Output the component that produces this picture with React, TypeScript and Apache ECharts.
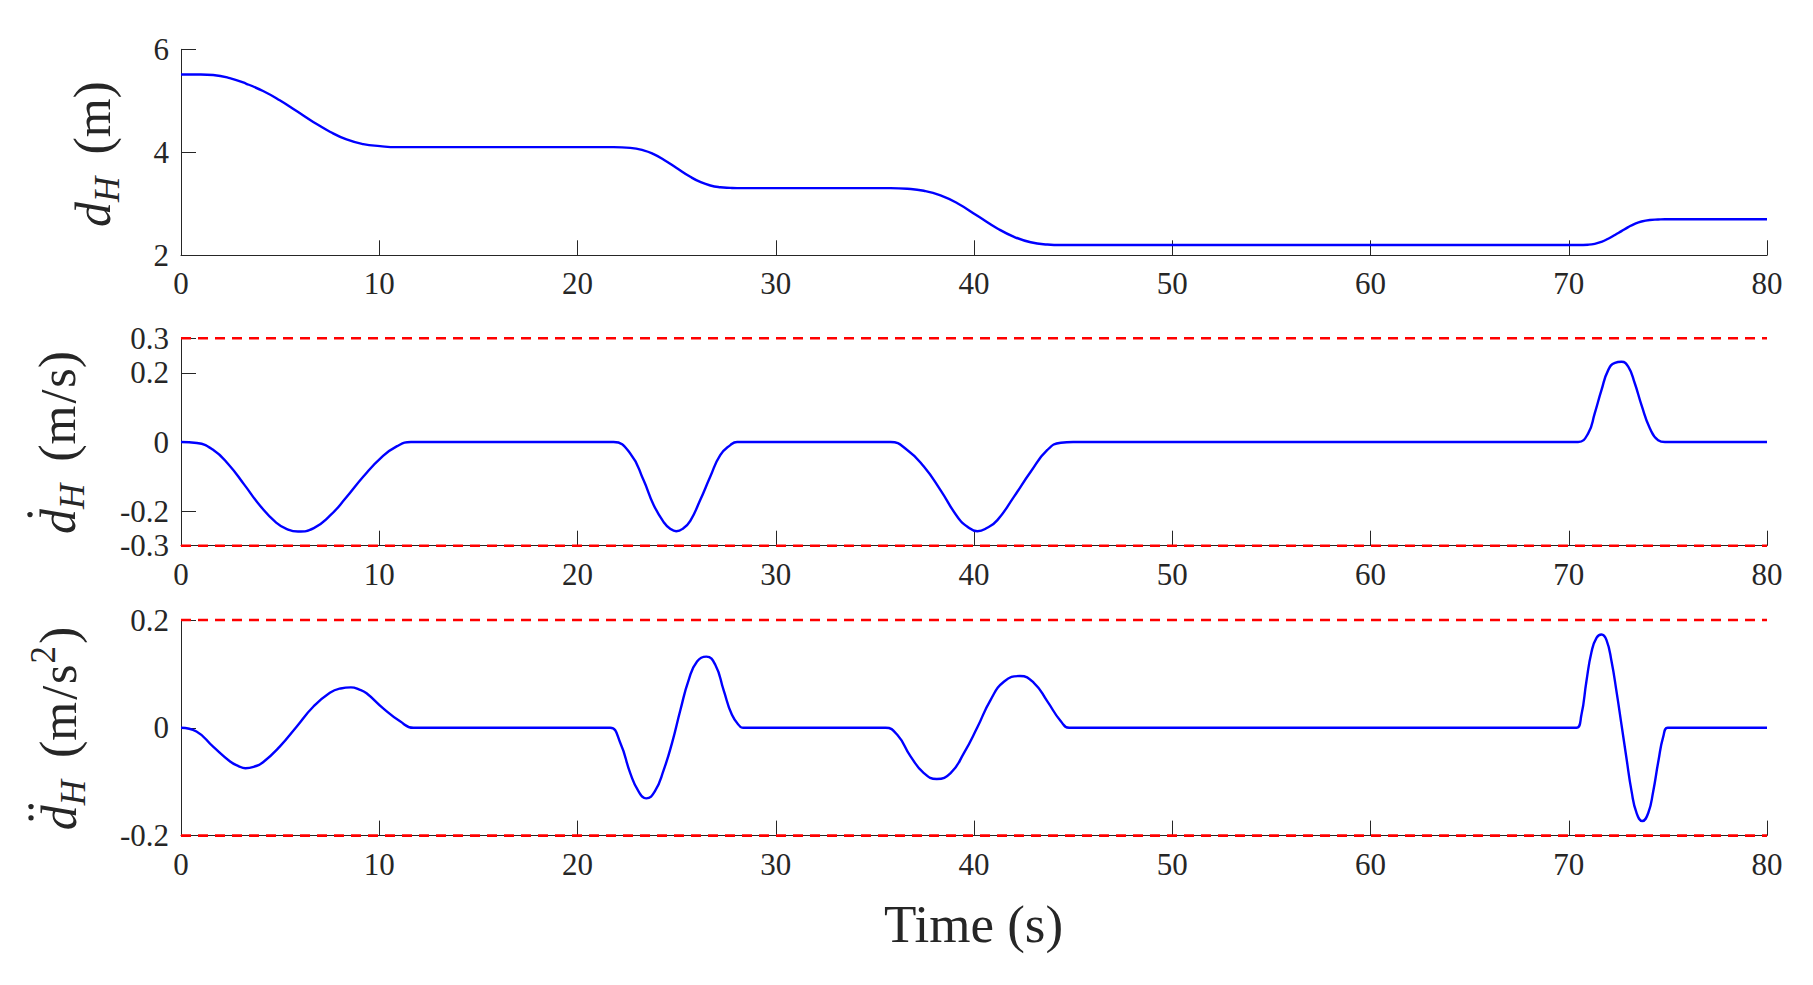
import React, { useEffect, useRef } from "react";
import * as echarts from "echarts";

// ---------- data ----------
const timeRange = [0, 80];
const timeInterval = 10;

const distanceTicks = [2, 4, 6];
const velocityTicks = [-0.3, -0.2, 0, 0.2, 0.3];
const accelTicks = [-0.2, 0, 0.2];

const velocityLimits = [-0.3, 0.3];
const accelLimits = [-0.2, 0.2];

// d_H (m)
const distanceData: [number, number][] = [
  [0, 5.51], [1.0, 5.51], [1.62, 5.5], [2.46, 5.44], [3.3, 5.33], [4.14, 5.19], [4.98, 5.01],
  [5.83, 4.8], [6.67, 4.59], [7.51, 4.4], [8.35, 4.25], [9.19, 4.16], [10.04, 4.12],
  [10.88, 4.1], [11.7, 4.1],
  [21.82, 4.1], [22.66, 4.086], [23.33, 4.038], [23.84, 3.964], [24.35, 3.856], [24.98, 3.699],
  [25.69, 3.524], [26.19, 3.424], [26.7, 3.355], [27.2, 3.321], [27.71, 3.309], [28.05, 3.305],
  [28.7, 3.305],
  [35.79, 3.305], [36.63, 3.293], [37.47, 3.253], [38.31, 3.163], [39.16, 3.01], [40.17, 2.768],
  [41.18, 2.522], [42.02, 2.358], [42.86, 2.253], [43.7, 2.21], [44.38, 2.2], [45.0, 2.2],
  [70.47, 2.2], [70.98, 2.206], [71.31, 2.223], [71.65, 2.262], [71.99, 2.322], [72.33, 2.395],
  [72.66, 2.47], [73.0, 2.547], [73.33, 2.61], [73.67, 2.656], [74.09, 2.686], [74.51, 2.695],
  [74.85, 2.7], [80, 2.7],
];

// d_H dot (m/s)
const velocityData: [number, number][] = [
  [0, 0], [0.8, -0.003], [1.6, -0.022], [2.4, -0.065], [3.2, -0.124], [4.0, -0.185],
  [4.8, -0.233], [5.35, -0.252], [5.9, -0.259], [6.7, -0.249], [7.5, -0.214], [8.3, -0.163],
  [9.2, -0.1], [10.1, -0.045], [10.9, -0.012], [11.6, 0], [12.2, 0],
  [21.2, 0], [21.82, 0], [22.66, -0.033], [23.33, -0.11], [23.84, -0.182], [24.35, -0.232],
  [24.66, -0.25], [24.98, -0.258], [25.33, -0.25], [25.69, -0.228], [26.19, -0.168], [26.7, -0.1],
  [27.2, -0.038], [27.71, -0.009], [28.05, 0], [28.7, 0],
  [35.2, 0], [35.79, 0], [36.63, -0.023], [37.47, -0.071], [38.31, -0.139], [39.16, -0.216],
  [39.67, -0.245], [40.17, -0.258], [40.67, -0.248], [41.18, -0.226], [42.02, -0.158],
  [42.86, -0.086], [43.7, -0.023], [44.38, -0.002], [45.0, 0],
  [69.9, 0], [70.47, 0], [70.98, 0.025], [71.31, 0.083], [71.65, 0.15], [71.99, 0.208], [72.33, 0.229],
  [72.66, 0.232], [73.0, 0.218], [73.33, 0.17], [73.67, 0.107], [74.09, 0.04], [74.51, 0.005],
  [74.85, 0], [75.4, 0], [80, 0],
];

// d_H double dot (m/s^2)
const accelData: [number, number][] = [
  [0, 0], [0.78, -0.007], [1.62, -0.035], [2.46, -0.062], [2.9, -0.071], [3.25, -0.075],
  [3.7, -0.072], [4.14, -0.064], [4.98, -0.035], [5.83, 0.002], [6.67, 0.039], [7.51, 0.065],
  [8.05, 0.073], [8.57, 0.075], [9.0, 0.071], [9.36, 0.064], [10.2, 0.036], [11.05, 0.012],
  [11.72, 0], [12.4, 0],
  [21.1, 0], [21.65, 0], [22.16, -0.028], [22.66, -0.084], [23.08, -0.118], [23.47, -0.131],
  [23.9, -0.118], [24.35, -0.078], [24.77, -0.028], [25.19, 0.033], [25.61, 0.089], [26.03, 0.123],
  [26.5, 0.132], [26.95, 0.117], [27.37, 0.07], [27.79, 0.024], [28.21, 0.002], [28.35, 0], [29.0, 0],
  [35.0, 0], [35.54, 0], [36.13, -0.013], [36.8, -0.053], [37.47, -0.084], [38.12, -0.095],
  [38.82, -0.084], [39.49, -0.047], [40.17, 0.001], [40.84, 0.052], [41.52, 0.086], [42.32, 0.096],
  [43.03, 0.083], [43.7, 0.049], [44.38, 0.012], [44.8, 0], [45.4, 0],
  [69.9, 0], [70.39, 0], [70.64, 0.024], [70.89, 0.086], [71.15, 0.141], [71.4, 0.167],
  [71.65, 0.173], [71.9, 0.163], [72.16, 0.123], [72.41, 0.067], [72.66, 0.006], [72.91, -0.056],
  [73.17, -0.118], [73.42, -0.158], [73.71, -0.173], [74.01, -0.158], [74.26, -0.118],
  [74.52, -0.062], [74.77, -0.016], [74.99, 0], [75.5, 0], [80, 0],
];

const xAxisTitle = "Time (s)";

type Token = { text: string; size: number; italic?: boolean; dy?: number; gap?: number };

const distanceLabel: Token[] = [
  { text: "d", size: 50, italic: true },
  { text: "H", size: 35, italic: true, dy: 9 },
  { text: "(", size: 52, gap: 22 },
  { text: "m", size: 50 },
  { text: ")", size: 52 },
];
const velocityLabel: Token[] = [
  { text: "d", size: 50, italic: true },
  { text: "H", size: 35, italic: true, dy: 9 },
  { text: "(", size: 52, gap: 22 },
  { text: "m", size: 50 },
  { text: "/", size: 50, gap: 2 },
  { text: "s", size: 50, gap: 2 },
  { text: ")", size: 52 },
];
const accelLabel: Token[] = [
  { text: "d", size: 50, italic: true },
  { text: "H", size: 35, italic: true, dy: 9 },
  { text: "(", size: 52, gap: 22 },
  { text: "m", size: 50 },
  { text: "/", size: 50, gap: 2 },
  { text: "s", size: 50, gap: 2 },
  { text: "2", size: 35, dy: -21, gap: 1 },
  { text: ")", size: 52, gap: 2 },
];

const FONT = "Liberation Serif";
const INK = "#262626";

function buildLabel(tokens: Token[], baselineX: number, centerY: number, dots: number[]) {
  const ctx = document.createElement("canvas").getContext("2d")!;
  let r = 0;
  const placed: { tk: Token; r: number; w: number }[] = [];
  tokens.forEach((tk) => {
    r += tk.gap || 0;
    ctx.font = `${tk.italic ? "italic " : ""}${tk.size}px "${FONT}"`;
    const w = ctx.measureText(tk.text).width;
    placed.push({ tk, r, w });
    r += w;
  });
  const total = r;
  const children: any[] = placed.map((p) => ({
    type: "text",
    x: p.r,
    y: -0.3375 * p.tk.size + (p.tk.dy || 0),
    style: {
      text: p.tk.text,
      fontSize: p.tk.size,
      fontStyle: p.tk.italic ? "italic" : "normal",
      fontFamily: FONT,
      fill: INK,
      align: "left",
      verticalAlign: "middle",
    },
  }));
  const dW = placed[0].w;
  dots.forEach((f) => {
    children.push({
      type: "circle",
      shape: { cx: dW * f, cy: -45, r: 2.7 },
      style: { fill: INK },
    });
  });
  return {
    type: "group",
    x: baselineX,
    y: centerY + total / 2,
    rotation: Math.PI / 2,
    silent: true,
    children,
  };
}

const fmt = (v: number) => String(Math.round(v * 10) / 10);

export default function App() {
  const ref = useRef<HTMLDivElement>(null);

  useEffect(() => {
    if (!ref.current) return;
    const chart = echarts.init(ref.current, undefined, { renderer: "svg" });

    const grids = [
      { left: 181, right: 46, top: 49.3, height: 206 },
      { left: 181, right: 46, top: 338.3, height: 207.4 },
      { left: 181, right: 46, top: 620, height: 215.6 },
    ];

    const axisLine = { show: true, onZero: false, lineStyle: { color: INK, width: 1 } };
    const tickBase = { show: true, inside: true, length: 15, lineStyle: { color: INK, width: 1 } };
    const labelBase = { color: INK, fontFamily: FONT, fontSize: 31 };

    const xAxes = [0, 1, 2].map((i) => ({
      type: "value",
      gridIndex: i,
      min: timeRange[0],
      max: timeRange[1],
      interval: timeInterval,
      axisLine,
      axisTick: tickBase,
      splitLine: { show: false },
      axisLabel: { ...labelBase, margin: 13, showMinLabel: true, showMaxLabel: true },
    }));

    const yAxes = [
      {
        type: "value",
        gridIndex: 0,
        min: distanceTicks[0],
        max: distanceTicks[distanceTicks.length - 1],
        interval: 2,
        axisLine,
        axisTick: tickBase,
        splitLine: { show: false },
        axisLabel: { ...labelBase, margin: 12, formatter: fmt },
      },
      {
        type: "value",
        gridIndex: 1,
        min: velocityTicks[0],
        max: velocityTicks[velocityTicks.length - 1],
        axisLine,
        axisTick: { ...tickBase, customValues: velocityTicks },
        splitLine: { show: false },
        axisLabel: { ...labelBase, margin: 12, customValues: velocityTicks, formatter: fmt },
      },
      {
        type: "value",
        gridIndex: 2,
        min: accelTicks[0],
        max: accelTicks[accelTicks.length - 1],
        axisLine,
        axisTick: { ...tickBase, customValues: accelTicks },
        splitLine: { show: false },
        axisLabel: { ...labelBase, margin: 12, customValues: accelTicks, formatter: fmt },
      },
    ];

    const blue = (data: [number, number][], idx: number) => ({
      type: "line",
      xAxisIndex: idx,
      yAxisIndex: idx,
      data,
      symbol: "none",
      showSymbol: false,
      smooth: 0.5,
      silent: true,
      z: 4,
      lineStyle: { color: "#0000ff", width: 2.4 },
    });
    const limit = (v: number, idx: number) => ({
      type: "line",
      xAxisIndex: idx,
      yAxisIndex: idx,
      data: [
        [timeRange[0], v],
        [timeRange[1], v],
      ],
      symbol: "none",
      showSymbol: false,
      silent: true,
      clip: false,
      z: 3,
      lineStyle: { color: "#ff0000", width: 2.6, type: [10, 7] },
    });

    chart.setOption({
      animation: false,
      backgroundColor: "#ffffff",
      grid: grids,
      xAxis: xAxes,
      yAxis: yAxes,
      series: [
        limit(velocityLimits[0], 1),
        limit(velocityLimits[1], 1),
        limit(accelLimits[0], 2),
        limit(accelLimits[1], 2),
        blue(distanceData, 0),
        blue(velocityData, 1),
        blue(accelData, 2),
      ],
      graphic: [
        buildLabel(distanceLabel, 110, 154, []),
        buildLabel(velocityLabel, 75, 442.5, [0.78]),
        buildLabel(accelLabel, 76, 728.5, [0.5, 0.95]),
        {
          type: "text",
          x: 973.5,
          y: 924,
          silent: true,
          style: {
            text: xAxisTitle,
            fontSize: 53,
            fontFamily: FONT,
            fill: INK,
            align: "center",
            verticalAlign: "middle",
          },
        },
      ],
    });

    return () => chart.dispose();
  }, []);

  return (
    <div
      ref={ref}
      style={{ position: "fixed", left: 0, top: 0, width: 1813, height: 985, background: "#fff" }}
    />
  );
}
